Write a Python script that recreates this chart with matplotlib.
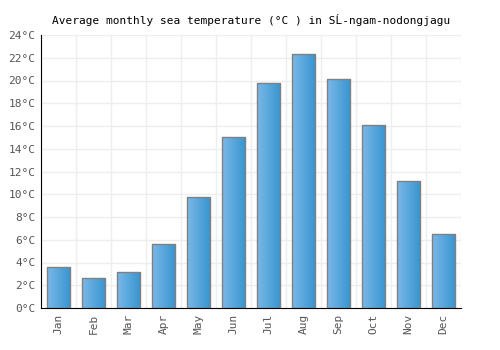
import matplotlib
matplotlib.use("Agg")
import matplotlib.pyplot as plt
import numpy as np
from matplotlib.colors import LinearSegmentedColormap

months = ["Jan", "Feb", "Mar", "Apr", "May", "Jun", "Jul", "Aug", "Sep", "Oct", "Nov", "Dec"]
temps = [3.6, 2.6, 3.2, 5.6, 9.8, 15.0, 19.8, 22.3, 20.1, 16.1, 11.2, 6.5]
yticks = list(range(0, 25, 2))
title = "Average monthly sea temperature (°C ) in SĹ-ngam-nodongjagu"

plt.rcParams['font.family'] = ['DejaVu Sans Mono', 'DejaVu Sans']

fig = plt.figure(figsize=(5, 3.5), dpi=100)
ax = fig.add_axes([0.082, 0.12, 0.84, 0.78])
x = np.arange(len(months))
width = 0.68
bars = ax.bar(x, temps, width=width, facecolor='none', edgecolor='#808080', linewidth=1, zorder=3)
cmap = LinearSegmentedColormap.from_list("g", ["#7ab8e8", "#3795cf"])
grad = np.linspace(0, 1, 64).reshape(1, -1)
for b in bars:
    x0, y0 = b.get_x(), b.get_y()
    w, h = b.get_width(), b.get_height()
    im = ax.imshow(grad, cmap=cmap, aspect='auto', extent=[x0, x0 + w, y0, y0 + h], zorder=2)
    im.set_clip_path(b)

ax.set_xlim(-0.5, len(months) - 0.5)
ax.set_ylim(0, 24)
ax.set_yticks(yticks)
ax.set_yticklabels([f"{v}°C" for v in yticks])
ax.set_xticks(x)
ax.set_xticklabels(months, rotation=90)
ax.set_xticks(np.arange(-0.5, len(months), 1), minor=True)
ax.grid(True, which='minor', axis='x', color='#eeeeee', linewidth=1, zorder=0)
ax.grid(True, which='major', axis='y', color='#eeeeee', linewidth=1, zorder=0)
ax.tick_params(axis='x', which='minor', length=0)
ax.tick_params(axis='both', which='major', labelsize=8, labelcolor='#555555', length=0, pad=4)
for s in ['top', 'right']:
    ax.spines[s].set_visible(False)
ax.spines['left'].set_color('black')
ax.spines['bottom'].set_color('black')
ax.set_title(title, fontsize=8, pad=8)
fig.savefig("out.png", dpi=100)
